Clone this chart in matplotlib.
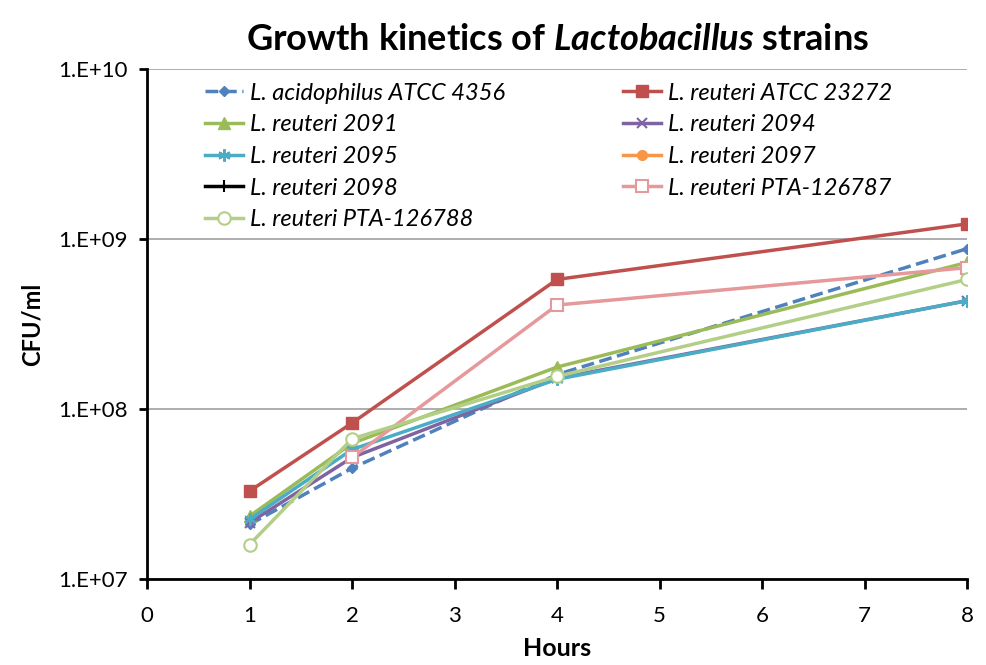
import matplotlib.pyplot as plt
from matplotlib.ticker import FixedLocator, NullLocator

plt.rcParams["font.family"] = ["Lato", "DejaVu Sans"]
plt.rcParams["mathtext.fontset"] = "custom"
plt.rcParams["mathtext.bfit"] = "Lato:italic:bold"
plt.rcParams["mathtext.bf"] = "Lato:bold"
plt.rcParams["mathtext.rm"] = "Lato:bold"

hours = [1, 2, 4, 8]

acidophilus_4356 = [2.1e7, 4.5e7, 1.6e8, 8.8e8]
reuteri_23272 = [3.3e7, 8.3e7, 5.8e8, 1.23e9]
reuteri_2091 = [2.35e7, 6.3e7, 1.77e8, 7.3e8]
reuteri_2094 = [2.15e7, 5.2e7, 1.52e8, 4.35e8]
reuteri_2095 = [2.25e7, 5.8e7, 1.5e8, 4.35e8]
reuteri_2097 = []
reuteri_2098 = []
hours_126787 = [2, 4, 8]
reuteri_126787 = [5.2e7, 4.1e8, 6.8e8]
reuteri_126788 = [1.6e7, 6.7e7, 1.56e8, 5.8e8]

y_ticks = [1e7, 1e8, 1e9, 1e10]
y_labels = ["1.E+07", "1.E+08", "1.E+09", "1.E+10"]

fig = plt.figure(figsize=(9.87, 6.65), dpi=100)
ax = fig.add_axes([0.149, 0.129, 0.831, 0.767])

series = [
    ("L. acidophilus ATCC 4356", hours, acidophilus_4356, dict(color="#4F81BD", ls="--", marker="D", ms=5)),
    ("L. reuteri ATCC 23272", hours, reuteri_23272, dict(color="#C0504D", marker="s", ms=8)),
    ("L. reuteri 2091", hours, reuteri_2091, dict(color="#9BBB59", marker="^", ms=8)),
    ("L. reuteri 2094", hours, reuteri_2094, dict(color="#8064A2", marker="x", ms=7, mew=1.5)),
    ("L. reuteri 2095", hours, reuteri_2095, dict(color="#4BACC6", marker=(6, 2, 0), ms=9, mew=1.5)),
    ("L. reuteri 2097", hours, reuteri_2097, dict(color="#F79646", marker="o", ms=7)),
    ("L. reuteri 2098", hours, reuteri_2098, dict(color="black", marker="|", ms=9, mew=1.5)),
    ("L. reuteri PTA-126787", hours_126787, reuteri_126787, dict(color="#E6999B", marker="s", ms=8, mfc="white", mew=1.5)),
    ("L. reuteri PTA-126788", hours, reuteri_126788, dict(color="#B3CF87", marker="o", ms=9, mfc="white", mew=1.5)),
]

lines = {}
for name, xs, values, style in series:
    line, = ax.plot(xs[:len(values)], values, lw=2.5, label=name, **style)
    lines[name] = line

ax.set_yscale("log")
ax.set_ylim(1e7, 1e10)
ax.set_xlim(0, 8)
ax.yaxis.set_major_locator(FixedLocator(y_ticks))
ax.yaxis.set_minor_locator(NullLocator())
ax.set_yticklabels(y_labels)
ax.set_xticks(range(9))

ax.grid(True, axis="y", color="#A0A0A0", lw=1.2)
ax.set_axisbelow(True)
for side in ["top", "right"]:
    ax.spines[side].set_visible(False)
for side in ["left", "bottom"]:
    ax.spines[side].set_linewidth(2)
ax.tick_params(axis="both", direction="out", width=2, length=6, labelsize=16, pad=8)
ax.tick_params(axis="x", length=7, pad=12)

ax.set_xlabel("Hours", fontsize=18, fontweight="bold", labelpad=8)
ax.set_ylabel("CFU/ml", fontsize=17, fontweight="bold", labelpad=10)
ax.set_title("Growth kinetics of $\\bfit{Lactobacillus}$ strains", fontsize=26,
             fontweight="bold", pad=14)

order = [0, 2, 4, 6, 8, 1, 3, 5, 7]
names = [series[i][0] for i in order]
leg = ax.legend([lines[n] for n in names], names, ncol=2, loc="upper left",
                bbox_to_anchor=(0.045, 1.015), frameon=False,
                prop={"style": "italic", "size": 17}, handlelength=1.6,
                handletextpad=0.3, labelspacing=0.45, columnspacing=5.0)

fig.savefig("out.png", dpi=100)
